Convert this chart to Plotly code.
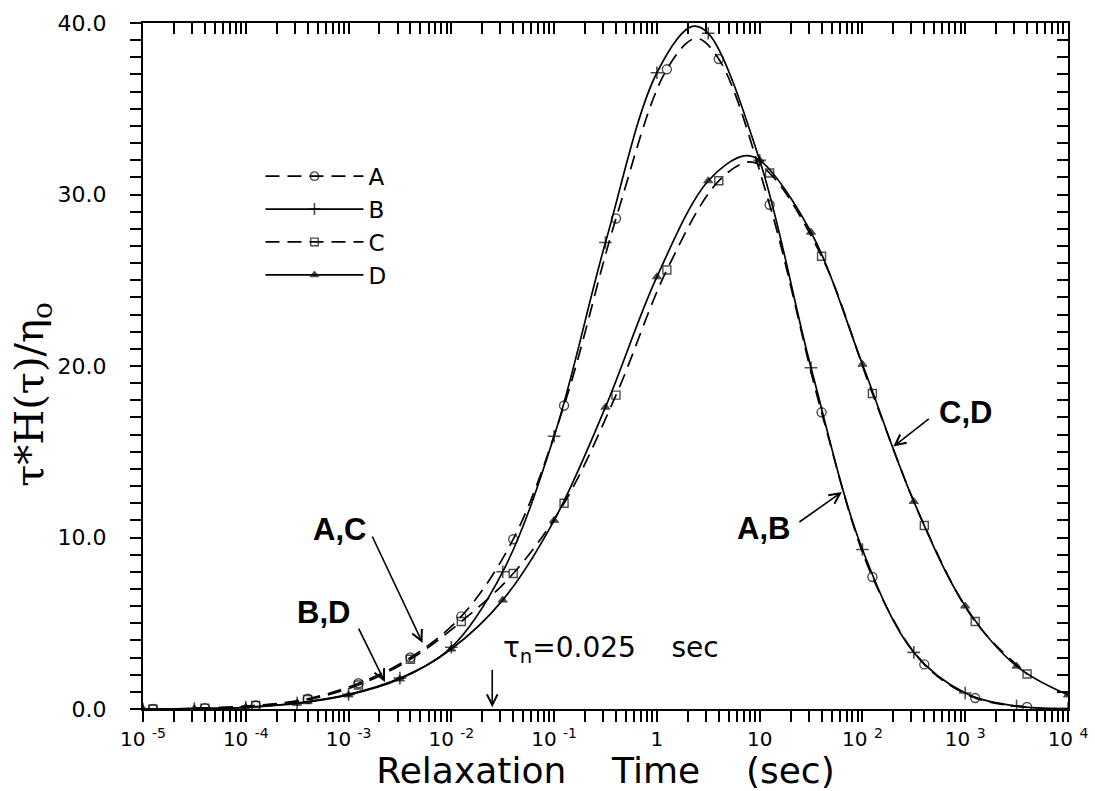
import plotly.graph_objects as go

# ---------------- data ----------------
A_tau = [1.25e-5, 4e-5, 1.25e-4, 4e-4, 1.25e-3, 4e-3, 0.0125, 0.04, 0.125, 0.4,
         1.25, 4.0, 12.5, 40.0, 125.0, 400.0, 1250.0, 4000.0]
A_val = [0.0, 0.05, 0.2, 0.6, 1.5, 3.0, 5.4, 9.9, 17.7, 28.6,
         37.3, 37.9, 29.4, 17.3, 7.7, 2.6, 0.64, 0.12]
A_peak = (2.4, 39.1)

B_tau = [1e-5, 3.16e-5, 1e-4, 3.16e-4, 1e-3, 3.16e-3, 0.01, 0.0316, 0.1, 0.316,
         1.0, 3.16, 10.0, 31.6, 100.0, 316.0, 1000.0, 3160.0, 10000.0]
B_val = [0.0, 0.02, 0.1, 0.35, 0.85, 1.8, 3.6, 8.0, 15.9, 27.2,
         37.1, 39.4, 32.0, 19.9, 9.3, 3.3, 0.93, 0.17, 0.03]
B_peak = (2.2, 39.8)

C_tau = [1.25e-5, 4e-5, 1.25e-4, 4e-4, 1.25e-3, 4e-3, 0.0125, 0.04, 0.125, 0.4,
         1.25, 4.0, 12.5, 40.0, 125.0, 400.0, 1250.0, 4000.0]
C_val = [0.0, 0.05, 0.2, 0.55, 1.4, 2.9, 5.1, 7.9, 12.0, 18.3,
         25.6, 30.8, 31.25, 26.4, 18.4, 10.7, 5.1, 2.04]
C_peak = (8.0, 31.9)

D_tau = [1e-5, 3.16e-5, 1e-4, 3.16e-4, 1e-3, 3.16e-3, 0.01, 0.0316, 0.1, 0.316,
         1.0, 3.16, 10.0, 31.6, 100.0, 316.0, 1000.0, 3160.0, 10000.0]
D_val = [0.0, 0.02, 0.1, 0.33, 0.82, 1.75, 3.5, 6.35, 11.0, 17.6,
         25.2, 30.8, 32.0, 27.8, 20.1, 12.1, 6.0, 2.5, 0.82]
D_peak = (7.0, 32.25)

series_names = ["A", "B", "C", "D"]
tau_n = 0.025

# axis ticks / labels
x_decades = [1e-5, 1e-4, 1e-3, 1e-2, 1e-1, 1.0, 10.0, 100.0, 1000.0, 10000.0]
x_decade_labels = ["10 <sup>-5</sup>", "10 <sup>-4</sup>", "10 <sup>-3</sup>",
                   "10 <sup>-2</sup>", "10 <sup>-1</sup>", "1", "10",
                   "10 <sup>2</sup>", "10 <sup>3</sup>", "10 <sup>4</sup>"]
y_major = [0, 10, 20, 30, 40]
y_major_labels = ["0.0", "10.0", "20.0", "30.0", "40.0"]

# ---------------- tick arrays (majors labelled, minors blank) ----------------
x_tickvals, x_ticktext = [], []
for i, d in enumerate(x_decades):
    x_tickvals.append(d)
    x_ticktext.append(x_decade_labels[i])
    if i < len(x_decades) - 1:
        for m in range(2, 10):
            x_tickvals.append(m * d)
            x_ticktext.append("")
y_tickvals = list(range(0, 41))
y_ticktext = [y_major_labels[y_major.index(v)] if v in y_major else "" for v in y_tickvals]

# ---------------- figure ----------------
FONT = "DejaVu Sans"
fig = go.Figure()

styles = {
    "A": dict(dash="14px,8px", symbol="circle-open", size=9, mlw=1.4),
    "B": dict(dash="solid", symbol="cross-thin-open", size=9, mlw=1.6),
    "C": dict(dash="14px,8px", symbol="square-open", size=8, mlw=1.4),
    "D": dict(dash="solid", symbol="triangle-up", size=8, mlw=1.0),
}
data = {"A": (A_tau, A_val, A_peak), "B": (B_tau, B_val, B_peak),
        "C": (C_tau, C_val, C_peak), "D": (D_tau, D_val, D_peak)}

for name in series_names:
    tau, val, peak = data[name]
    st = styles[name]
    pts = [(t, v, st["size"]) for t, v in zip(tau, val)] + [(peak[0], peak[1], 0)]
    pts.sort(key=lambda p: p[0])
    fig.add_trace(go.Scatter(
        x=[p[0] for p in pts], y=[p[1] for p in pts],
        mode="lines+markers", name=name,
        line=dict(color="black", width=1.7, dash=st["dash"], shape="spline", smoothing=1.0),
        marker=dict(symbol=st["symbol"], size=[p[2] for p in pts], color="black",
                    line=dict(color="black", width=st["mlw"])),
    ))

# invisible copies on the helper axes (mirrored top/right axes, left tick axis)
fig.add_trace(go.Scatter(x=D_tau, y=D_val, xaxis="x2", yaxis="y2", mode="lines",
                         line=dict(width=0), opacity=0, showlegend=False, hoverinfo="skip"))
fig.add_trace(go.Scatter(x=D_tau, y=D_val, xaxis="x", yaxis="y3", mode="lines",
                         line=dict(width=0), opacity=0, showlegend=False, hoverinfo="skip"))

# ---------------- annotations ----------------
def arrow(x, y, ax, ay):
    return dict(x=x, y=y, ax=ax, ay=ay, xref="x", yref="y", text="",
                showarrow=True, arrowhead=5, arrowsize=1.3, arrowwidth=1.6,
                arrowcolor="black", standoff=0)

def label(x, y, text):
    return dict(x=x, y=y, xref="x", yref="y", text=text, showarrow=False,
                font=dict(family="Liberation Sans", size=31, color="black", weight="bold"))

annotations = [
    label(-3.084, 10.44, "A,C"), arrow(-2.28, 3.85, -51, -108),
    label(-3.239, 5.6, "B,D"), arrow(-2.646, 1.57, -27, -55),
    label(1.041, 10.55, "A,B"), arrow(1.80, 12.65, -44, 31),
    label(3.006, 17.3, "C,D"), arrow(2.30, 15.3, 37, -29),
    arrow(-1.602, 0.1, 0, -39),
    dict(x=-1.52, y=3.45, xref="x", yref="y", xanchor="left",
         text="τ<sub>n</sub>=0.025    sec", showarrow=False,
         font=dict(family=FONT, size=28, color="black")),
    # y-axis title
    dict(x=-0.12, y=0.458, xref="paper", yref="paper", textangle=-90,
         xanchor="center", yanchor="middle",
         text="τ*H(τ)/η<sub>o</sub>", showarrow=False,
         font=dict(family="DejaVu Serif", size=40, color="black")),
]

tickfont = dict(family=FONT, size=20, color="black")
line_kw = dict(showline=True, linecolor="black", linewidth=2, showgrid=False, zeroline=False)
fig.update_layout(
    width=1095, height=791,
    margin=dict(l=143, r=27, t=23, b=82, autoexpand=False),
    paper_bgcolor="white", plot_bgcolor="white",
    showlegend=True,
    legend=dict(x=0.127, y=0.808, xanchor="left", yanchor="top",
                font=dict(family=FONT, size=23, color="black"),
                itemwidth=98, bgcolor="rgba(0,0,0,0)", tracegroupgap=0),
    annotations=annotations,
    xaxis=dict(type="log", range=[-5, 4], tickmode="array",
               tickvals=x_tickvals, ticktext=x_ticktext,
               ticks="outside", ticklen=11, tickwidth=1.5, tickcolor="black",
               tickfont=tickfont, automargin=False,
               title=dict(text="Relaxation    Time    (sec)", standoff=24,
                          font=dict(family=FONT, size=36, color="black")),
               **line_kw),
    xaxis2=dict(type="log", range=[-5, 4], overlaying="x", side="top", anchor="y",
                tickmode="array", tickvals=x_tickvals,
                ticks="inside", ticklen=11, tickwidth=1.5, tickcolor="black",
                showticklabels=False, **line_kw),
    # main y axis: labels only (transparent long ticks push the labels outwards)
    yaxis=dict(range=[0, 40], tickmode="array", tickvals=y_tickvals, ticktext=y_ticktext,
               ticks="outside", ticklen=30, tickwidth=1, tickcolor="rgba(0,0,0,0)",
               tickfont=dict(family=FONT, size=22, color="black"), automargin=False,
               **line_kw),
    # left tick marks
    yaxis3=dict(range=[0, 40], overlaying="y", side="left", anchor="x",
                tickmode="array", tickvals=y_tickvals,
                ticks="outside", ticklen=11, tickwidth=1.5, tickcolor="black",
                showticklabels=False, **line_kw),
    yaxis2=dict(range=[0, 40], overlaying="y", side="right", anchor="x",
                tickmode="array", tickvals=y_tickvals,
                ticks="inside", ticklen=11, tickwidth=1.5, tickcolor="black",
                showticklabels=False, **line_kw),
)

fig.write_html("out.html")
